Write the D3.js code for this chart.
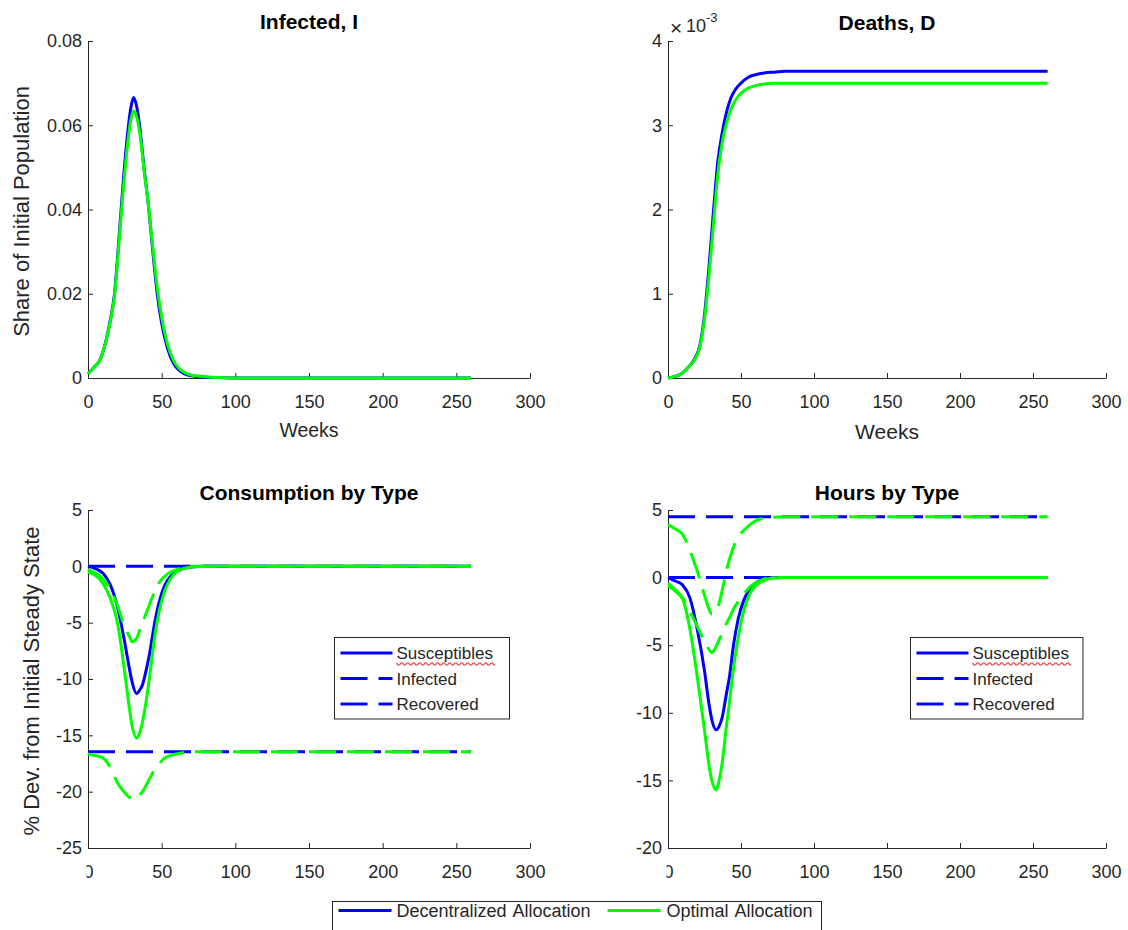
<!DOCTYPE html>
<html>
<head>
<meta charset="utf-8">
<script src="https://cdn.jsdelivr.net/npm/d3@7"></script>
<style>
body{margin:0;background:#fff;}
svg{display:block;font-family:"Liberation Sans",Arial,Helvetica,sans-serif;}
</style>
</head>
<body>
<svg id="fig" width="1128" height="930"></svg>
<script>
// ---- data ----
const xTicks = [0,50,100,150,200,250,300];

const weeksI = [0,4,8,12,15,18,21,24,27,29,31,33,35,38,41,44,47,50,54,58,62,66,70,80,90,100,260];
const infDec = [0.0010,0.0025,0.0042,0.0085,0.0135,0.0200,0.0330,0.0470,0.0585,0.0640,0.0666,0.0645,0.0600,0.0500,0.0410,0.0300,0.0200,0.0130,0.0070,0.0035,0.0018,0.0009,0.0005,0.0002,0.0001,0,0];
const infOpt = [0.0010,0.0025,0.0042,0.0085,0.0132,0.0195,0.0320,0.0450,0.0560,0.0612,0.0634,0.0620,0.0585,0.0495,0.0410,0.0310,0.0215,0.0145,0.0080,0.0042,0.0022,0.0012,0.0007,0.0003,0.0001,0,0];

// deaths, in units of 1e-3
const weeksD = [0,5,10,14,18,22,25,28,31,34,37,40,43,46,50,55,60,66,72,80,100,260];
const deathsDec = [0,0.02,0.06,0.13,0.22,0.40,0.75,1.30,1.95,2.55,2.90,3.15,3.32,3.42,3.50,3.57,3.60,3.62,3.63,3.64,3.64,3.64];
const deathsOpt = [0,0.02,0.06,0.13,0.21,0.38,0.70,1.20,1.80,2.40,2.78,3.02,3.18,3.29,3.38,3.44,3.47,3.49,3.50,3.50,3.50,3.50];

const weeksT = [0,5,10,15,20,25,28,30,33,35,37,40,42,45,48,52,56,60,66,72,80,100,260];
const weeksFlat = [0,260];

const consSDec = [0,-0.2,-0.6,-1.6,-3.6,-6.8,-9.0,-10.3,-11.3,-11.0,-10.5,-8.9,-7.6,-5.2,-3.3,-1.7,-0.9,-0.45,-0.15,-0.03,0,0,0];
const consIDec = [0,0];
const consRDec = [-16.45,-16.45];
const consSOpt = [-0.5,-0.8,-1.5,-2.8,-5.0,-9.5,-12.5,-14.2,-15.25,-14.8,-13.8,-11.5,-9.6,-6.5,-4.2,-2.2,-1.1,-0.5,-0.15,-0.03,0,0,0];
const consIOpt = [-0.3,-0.6,-1.1,-2.0,-3.5,-5.4,-6.2,-6.7,-6.4,-5.7,-5.0,-4.0,-3.3,-2.3,-1.5,-0.9,-0.5,-0.3,-0.1,0,0,0,0];
const consROpt = [-16.65,-16.8,-17.0,-17.8,-19.2,-20.1,-20.5,-20.7,-20.5,-20.3,-20.0,-19.3,-18.8,-18.1,-17.6,-17.0,-16.8,-16.65,-16.5,-16.45,-16.45,-16.45,-16.45];

const hrsSDec = [0,-0.25,-0.55,-1.5,-3.8,-6.9,-9.3,-10.5,-11.25,-11.0,-10.4,-8.6,-7.4,-4.9,-3.1,-1.65,-0.85,-0.4,-0.12,-0.02,0,0,0];
const hrsIDec = [0,0];
const hrsRDec = [4.5,4.5];
const hrsSOpt = [-0.6,-1.0,-1.6,-3.8,-7.3,-11.3,-13.8,-15.0,-15.7,-15.0,-13.8,-11.0,-9.3,-6.6,-4.5,-2.4,-1.2,-0.6,-0.2,-0.03,0,0,0];
const hrsIOpt = [-0.4,-0.9,-1.5,-2.5,-3.6,-4.7,-5.3,-5.55,-5.1,-4.6,-4.2,-3.4,-3.0,-2.3,-1.8,-1.2,-0.7,-0.4,-0.1,0,0,0,0];
const hrsROpt = [3.9,3.6,3.2,2.0,0.5,-1.3,-2.3,-2.7,-2.5,-1.9,-1.0,0.5,1.3,2.3,3.0,3.5,3.9,4.2,4.4,4.47,4.5,4.5,4.5];

const typeLabels = ["Susceptibles","Infected","Recovered"];
const allocLabels = ["Decentralized Allocation","Optimal Allocation"];

// ---- drawing ----
const svg = d3.select("#fig");
const blue = "#0000ff", green = "#00ff00", axisCol = "#262626";
const dash = "27,11";

function panel(o){
	const x = d3.scaleLinear().domain([0,300]).range([o.x0,o.x1]);
	const y = d3.scaleLinear().domain(o.ydom).range([o.yb,o.yt]);
	const g = svg.append("g");

	const xa = g.append("g").attr("transform","translate(0,"+o.yb+")")
		.call(d3.axisBottom(x).tickValues(xTicks).tickSizeInner(-5).tickSizeOuter(0).tickPadding(17).tickFormat(d=>String(d)));
	const ya = g.append("g").attr("transform","translate("+o.x0+",0)")
		.call(d3.axisLeft(y).tickValues(o.yticks).tickSizeInner(-5).tickSizeOuter(0).tickPadding(6).tickFormat(o.yfmt || (d=>String(d))));
	[xa,ya].forEach(a=>{
		a.attr("font-family",null).attr("font-size",null);
		a.selectAll("path,line").style("stroke",axisCol).style("stroke-width",1);
		a.selectAll("text").style("fill",axisCol).style("font-size","18px");
	});

	if (o.clipZero){
		// the "0" under the y axis is half hidden in the original
		const id = "clip"+o.x0;
		svg.append("clipPath").attr("id",id).append("rect")
			.attr("x",o.x0-2).attr("y",0).attr("width",1128).attr("height",930);
		xa.selectAll(".tick").filter(d=>d===0).select("text").attr("clip-path","url(#"+id+")")
			.attr("transform","translate("+(-o.x0)+",0)").attr("x",o.x0);
	}

	const line = d3.line().x(d=>x(d[0])).y(d=>y(d[1])).curve(d3.curveMonotoneX);
	o.series.forEach(s=>{
		g.append("path")
			.datum(s.weeks.map((w,i)=>[w,s.vals[i]]))
			.attr("d",line)
			.style("fill","none")
			.style("stroke",s.color)
			.style("stroke-width",3)
			.style("stroke-dasharray",s.dashed ? dash : null);
	});

	g.append("text").text(o.title)
		.attr("x",(o.x0+o.x1)/2).attr("y",o.titleY)
		.style("text-anchor","middle").style("font-weight","bold").style("font-size","21px").style("fill","#000");

	if (o.xlabel){
		g.append("text").text(o.xlabel)
			.attr("x",(o.x0+o.x1)/2).attr("y",o.xlabelY)
			.style("text-anchor","middle").style("font-size",o.xlabelSize).style("fill",axisCol);
	}
	if (o.ylabel){
		g.append("text").text(o.ylabel)
			.attr("transform","translate("+o.ylabelX+","+((o.yt+o.yb)/2+2)+") rotate(-90)")
			.attr("dy","0.35em")
			.style("text-anchor","middle").style("font-size","22px").style("fill",axisCol);
	}
	return {g,x,y};
}

function typeLegend(x0,y0,w,h){
	const g = svg.append("g").attr("transform","translate("+x0+","+y0+")");
	g.append("rect").attr("width",w).attr("height",h)
		.style("fill","#fff").style("stroke",axisCol).style("stroke-width",1);
	typeLabels.forEach((lab,i)=>{
		const yy = 15.5 + i*25.5;
		g.append("line").attr("x1",6).attr("x2",58).attr("y1",yy).attr("y2",yy)
			.style("stroke",blue).style("stroke-width",3)
			.style("stroke-dasharray",i===0 ? null : dash);
		const t = g.append("text").text(lab).attr("x",62).attr("y",yy+6)
			.style("font-size","17px").style("fill",axisCol);
		if (i===0){
			// spell-check squiggle visible in the source screenshot
			const len = t.node().getComputedTextLength();
			let p = "M62,"+(yy+10);
			for (let k=0;k*3<len;k++) p += " l1.5,"+(k%2?-2:2)+" l1.5,0";
			g.append("path").attr("d",p).style("fill","none").style("stroke","#f03030").style("stroke-width",1.2);
		}
	});
}

panel({
	x0:88, x1:530, yb:378, yt:41, ydom:[0,0.08], yticks:[0,0.02,0.04,0.06,0.08],
	title:"Infected, I", titleY:29, xlabel:"Weeks", xlabelY:437, xlabelSize:"19.5px",
	ylabel:"Share of Initial Population", ylabelX:21,
	series:[
		{weeks:weeksI, vals:infDec, color:blue},
		{weeks:weeksI, vals:infOpt, color:green}
	]
});

panel({
	x0:668, x1:1106, yb:378, yt:41, ydom:[0,4], yticks:[0,1,2,3,4],
	title:"Deaths, D", titleY:30, xlabel:"Weeks", xlabelY:439, xlabelSize:"21px",
	series:[
		{weeks:weeksD, vals:deathsDec, color:blue},
		{weeks:weeksD, vals:deathsOpt, color:green}
	]
});
// exponent label of the deaths axis
const ex = svg.append("g").style("fill",axisCol);
ex.append("text").text("\u00d7").attr("x",670).attr("y",35).style("font-size","21px");
ex.append("text").text("10").attr("x",686).attr("y",32).style("font-size","18px");
ex.append("text").text("-3").attr("x",706).attr("y",22).style("font-size","13px");

panel({
	x0:88, x1:530, yb:848, yt:510, ydom:[-25,5], yticks:[-25,-20,-15,-10,-5,0,5],
	title:"Consumption by Type", titleY:500, clipZero:true,
	ylabel:"% Dev. from Initial Steady State", ylabelX:31,
	series:[
		{weeks:weeksT, vals:consSDec, color:blue},
		{weeks:weeksFlat, vals:consIDec, color:blue, dashed:true},
		{weeks:weeksFlat, vals:consRDec, color:blue, dashed:true},
		{weeks:weeksT, vals:consSOpt, color:green},
		{weeks:weeksT, vals:consIOpt, color:green, dashed:true},
		{weeks:weeksT, vals:consROpt, color:green, dashed:true}
	]
});

panel({
	x0:668, x1:1106, yb:848, yt:510, ydom:[-20,5], yticks:[-20,-15,-10,-5,0,5],
	title:"Hours by Type", titleY:500, clipZero:true,
	series:[
		{weeks:weeksT, vals:hrsSDec, color:blue},
		{weeks:weeksFlat, vals:hrsIDec, color:blue, dashed:true},
		{weeks:weeksFlat, vals:hrsRDec, color:blue, dashed:true},
		{weeks:weeksT, vals:hrsSOpt, color:green},
		{weeks:weeksT, vals:hrsIOpt, color:green, dashed:true},
		{weeks:weeksT, vals:hrsROpt, color:green, dashed:true}
	]
});

typeLegend(334.5,637.5,175,81.5);
typeLegend(910.5,637.5,172.5,81.5);

// shared legend at the bottom
const lg = svg.append("g").attr("transform","translate(332.5,901.5)");
lg.append("rect").attr("width",489).attr("height",40)
	.style("fill","#fff").style("stroke",axisCol).style("stroke-width",1);
const lgX = [[6,64],[275,334]];
[blue,green].forEach((c,i)=>{
	lg.append("line").attr("x1",lgX[i][0]).attr("x2",lgX[i][0]+53).attr("y1",9).attr("y2",9)
		.style("stroke",c).style("stroke-width",3);
	lg.append("text").text(allocLabels[i]).attr("x",lgX[i][1]).attr("y",15.5)
		.style("font-size","18px").style("fill",axisCol).style("word-spacing","2px");
});
</script>
</body>
</html>
